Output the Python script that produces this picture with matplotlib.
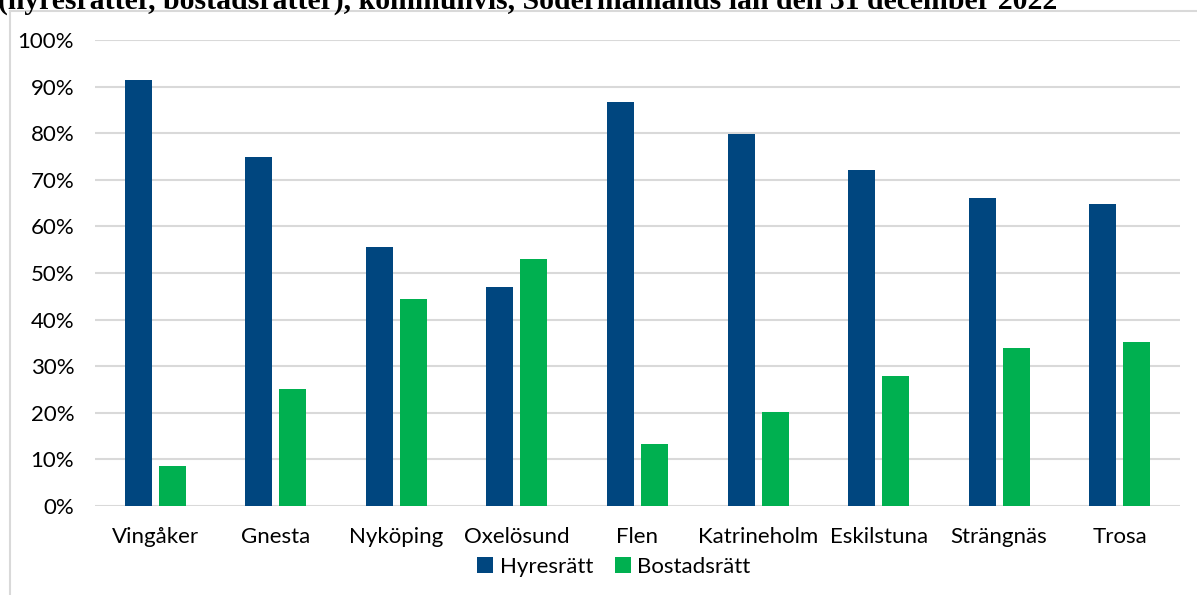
import numpy as np
import matplotlib
matplotlib.use('Agg')
import matplotlib.pyplot as plt
from matplotlib.patches import Rectangle
from matplotlib.ticker import PercentFormatter

kommuner = ['Vingåker', 'Gnesta', 'Nyköping', 'Oxelösund', 'Flen',
            'Katrineholm', 'Eskilstuna', 'Strängnäs', 'Trosa']
hyresratt = [91.4, 74.8, 55.5, 47.1, 86.6, 79.8, 72.1, 66.1, 64.7]
bostadsratt = [8.6, 25.2, 44.5, 52.9, 13.4, 20.2, 27.9, 33.9, 35.3]
yticks = [0, 10, 20, 30, 40, 50, 60, 70, 80, 90, 100]

blue = '#00467F'
green = '#00B050'
grid = '#D9D9D9'

plt.rcParams['font.family'] = ['Lato', 'DejaVu Sans']

W, H = 1197, 595
fig = plt.figure(figsize=(W / 100, H / 100), dpi=100)

# chart frame, partly outside the picture
fig.patches.append(Rectangle((10 / W, -0.1), 1.2, (H - 11) / H + 0.1,
                             transform=fig.transFigure, fill=False,
                             edgecolor=grid, linewidth=1.5))

# title, cut off at the top like in the source
fig.text(-2 / W, 1 - 9 / H,
         '(hyresrätter, bostadsrätter), kommunvis, Södermanlands län den 31 december 2022',
         fontfamily='Liberation Serif', fontweight='bold', fontsize=21.4,
         va='baseline', ha='left')

ax = fig.add_axes([95 / W, 1 - 506 / H, (1180 - 95) / W, (506 - 40) / H])
x = np.arange(len(kommuner))
bw = 0.224
off = 0.141
ax.bar(x - off, hyresratt, bw, color=blue, label='Hyresrätt', zorder=3)
ax.bar(x + off, bostadsratt, bw, color=green, label='Bostadsrätt', zorder=3)

ax.set_xlim(-0.5, len(kommuner) - 0.5)
ax.set_ylim(0, 100)
ax.set_yticks(yticks)
ax.yaxis.set_major_formatter(PercentFormatter(decimals=0))
ax.set_xticks(x)
ax.set_xticklabels(kommuner)
ax.grid(axis='y', color=grid, linewidth=1.5, zorder=0)
for s in ax.spines.values():
    s.set_visible(False)
ax.tick_params(axis='both', length=0, labelsize=16, labelcolor='#000000')
ax.tick_params(axis='y', pad=15)
ax.tick_params(axis='x', pad=15)

ax.legend(loc='center', bbox_to_anchor=(614 / W, 1 - 567 / H),
          bbox_transform=fig.transFigure, ncol=2, frameon=False,
          fontsize=16, handlelength=0.7, handleheight=0.7,
          handletextpad=0.3, columnspacing=1.0)

fig.savefig('out.png', dpi=100)
